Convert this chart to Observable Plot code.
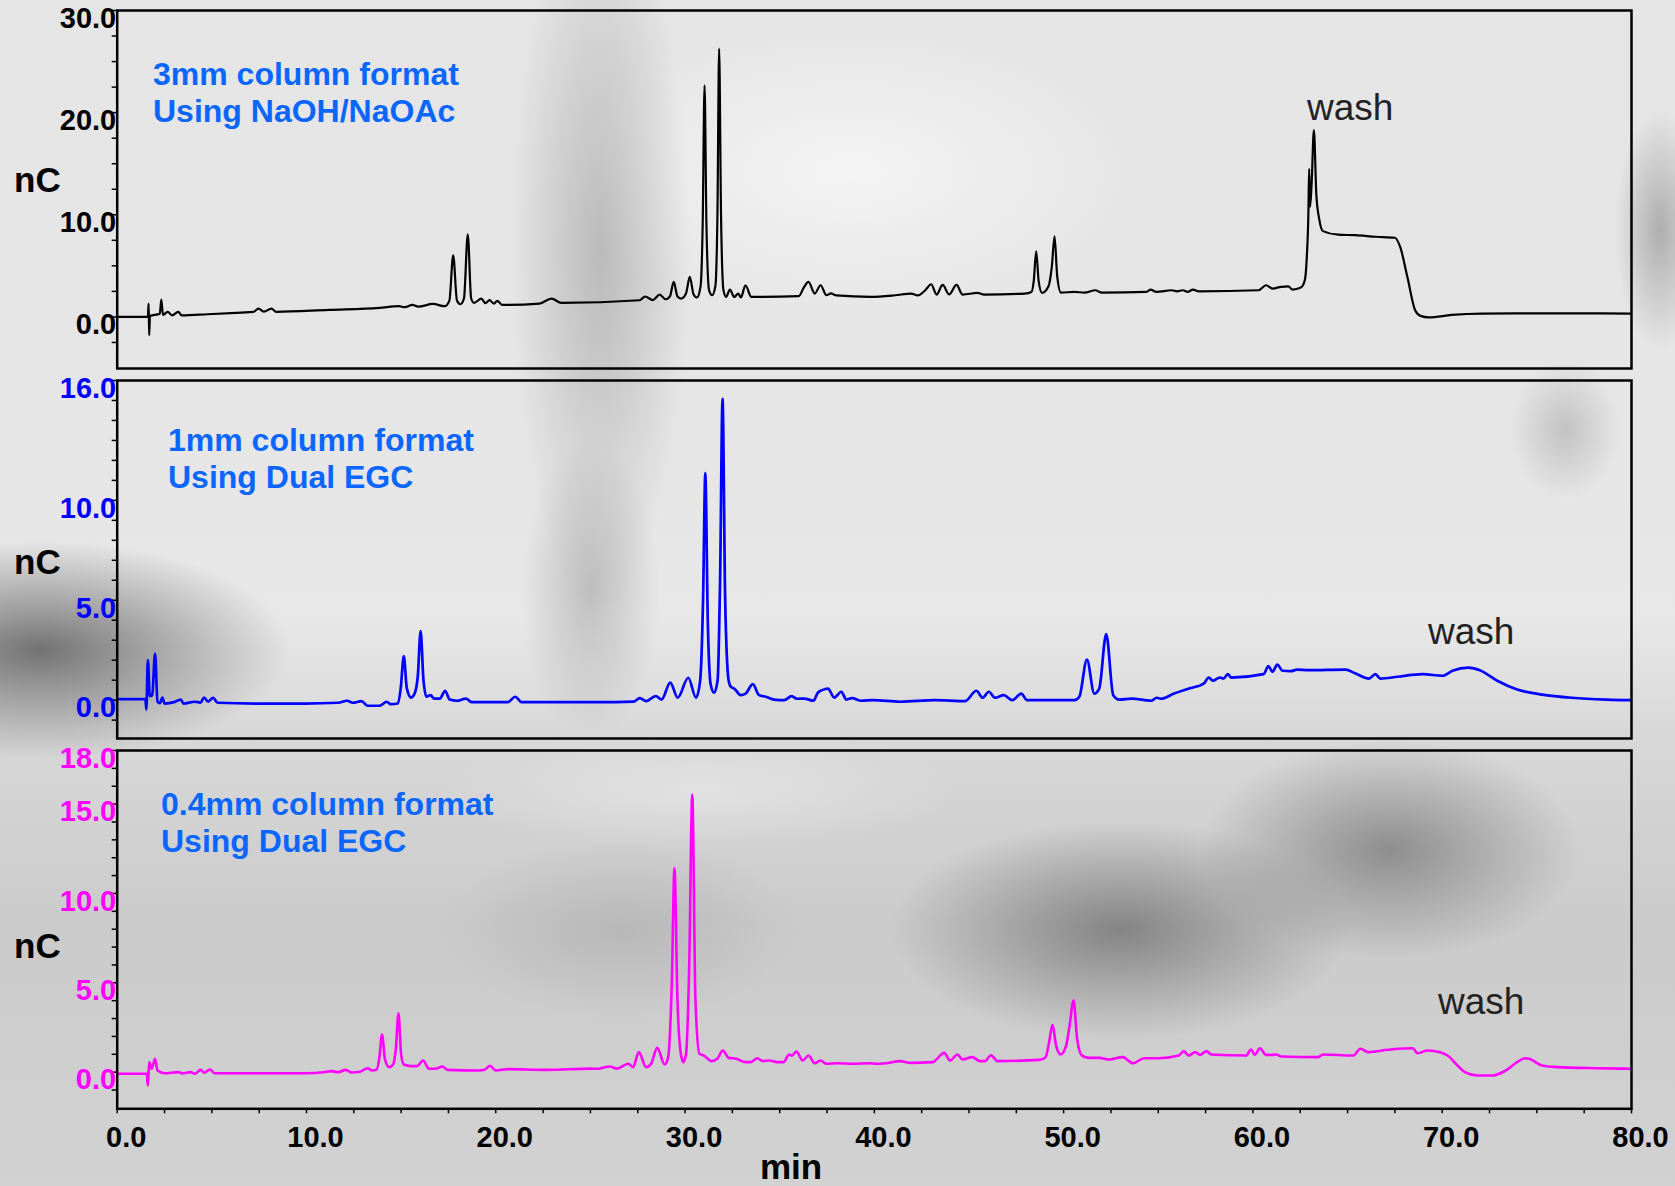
<!DOCTYPE html>
<html>
<head>
<meta charset="utf-8">
<script src="https://cdn.jsdelivr.net/npm/d3@7"></script>
<script src="https://cdn.jsdelivr.net/npm/@observablehq/plot@0.6"></script>
<style>
html, body { margin: 0; padding: 0; background: #dcdcdc; }
#chart {
  position: relative; width: 1675px; height: 1186px; overflow: hidden;
  font-family: "Liberation Sans", Arial, sans-serif;
  background:
    radial-gradient(ellipse 250px 110px at 40px 650px, rgba(95,95,95,0.85), rgba(95,95,95,0)),
    radial-gradient(ellipse 90px 360px at 600px 250px, rgba(150,150,150,0.55), rgba(150,150,150,0)),
    radial-gradient(ellipse 70px 150px at 590px 590px, rgba(150,150,150,0.5), rgba(150,150,150,0)),
    radial-gradient(ellipse 230px 110px at 1120px 930px, rgba(120,120,120,0.85), rgba(120,120,120,0)),
    radial-gradient(ellipse 190px 110px at 1390px 850px, rgba(125,125,125,0.8), rgba(125,125,125,0)),
    radial-gradient(ellipse 180px 90px at 620px 930px, rgba(160,160,160,0.45), rgba(160,160,160,0)),
    radial-gradient(ellipse 45px 120px at 1660px 230px, rgba(150,150,150,0.7), rgba(150,150,150,0)),
    radial-gradient(ellipse 55px 70px at 1565px 430px, rgba(165,165,165,0.55), rgba(165,165,165,0)),
    radial-gradient(ellipse 300px 150px at 850px 170px, rgba(250,250,250,0.7), rgba(250,250,250,0)),
    radial-gradient(ellipse 260px 60px at 700px 790px, rgba(235,235,235,0.6), rgba(235,235,235,0)),
    linear-gradient(180deg, #e5e5e5 0%, #e6e6e6 40%, #e8e8e8 52%, #d8d8d8 62%, #cbcbcb 78%, #d2d2d2 100%);
}
.panel { position: absolute; left: 0; }
.lbl { position: absolute; white-space: nowrap; line-height: 1; }
.nc { font-size: 35px; font-weight: bold; color: #000; left: 14px; }
.note { font-size: 32px; font-weight: bold; color: #0a66ff; line-height: 37px; }
.wash { font-size: 37px; color: #222; }
</style>
</head>
<body>
<div id="chart"></div>
<script>
// ---------- data (time in min, response in nC) ----------
const trace3mm = [
  [0.0,0.0],[1.62,0.02],[1.66,1.3],[1.69,-1.79],[1.73,0.1],[2.25,0.3],[2.33,1.7],[2.42,0.2],
  [2.67,0.49],[2.9,0.15],[3.23,0.49],[3.41,0.15],[4.77,0.26],[6.56,0.43],[7.2,0.5],[7.46,0.82],
  [7.75,0.52],[8.15,0.82],[8.4,0.5],[11.17,0.69],[13.86,0.88],[14.88,1.05],[15.2,0.95],[15.6,1.18],
  [15.9,1.0],[16.68,1.27],[17.3,1.05],[17.55,1.6],[17.75,6.04],[17.95,1.6],[18.13,1.24],[18.32,1.8],
  [18.52,8.09],[18.7,1.8],[18.85,1.37],[19.24,1.8],[19.45,1.35],[19.67,1.64],[19.9,1.3],[20.08,1.57],
  [20.34,1.18],[22.31,1.31],[22.95,1.8],[23.46,1.37],[27.6,1.63],[27.89,2.0],[28.3,1.65],[28.66,2.19],
  [28.97,1.73],[29.2,2.0],[29.4,3.43],[29.6,2.0],[29.79,1.8],[30.05,2.3],[30.25,3.92],[30.45,2.2],
  [30.63,1.9],[30.82,3.0],[30.93,9.0],[31.03,22.67],[31.13,9.0],[31.27,2.6],[31.43,2.12],[31.6,3.0],
  [31.71,10.0],[31.8,26.26],[31.9,10.0],[32.03,2.6],[32.17,1.96],[32.37,2.68],[32.6,1.95],[32.81,2.29],
  [32.95,1.9],[33.19,3.1],[33.5,1.96],[36.01,2.03],[36.27,2.87],[36.52,3.43],[36.85,2.29],[37.16,3.1],
  [37.47,2.12],[37.7,2.3],[38.0,2.1],[39.8,1.96],[41.1,2.12],[41.95,2.29],[42.3,2.1],[42.69,2.61],
  [43.0,3.2],[43.29,2.19],[43.61,3.13],[43.95,2.2],[44.34,3.13],[44.66,2.19],[45.45,2.35],[45.8,2.19],
  [47.94,2.29],[48.3,2.45],[48.42,3.5],[48.55,6.43],[48.68,3.5],[48.86,2.35],[49.2,3.0],[49.38,5.0],
  [49.52,7.9],[49.66,4.0],[49.86,2.38],[50.57,2.45],[51.1,2.38],[51.67,2.61],[52.02,2.38],[54.38,2.45],
  [54.59,2.68],[54.9,2.45],[55.7,2.61],[56.0,2.51],[56.3,2.61],[56.55,2.45],[56.83,2.68],[57.14,2.51],
  [60.3,2.61],[60.69,3.1],[61.03,2.78],[61.48,2.94],[61.87,3.0],[62.08,2.68],[62.53,2.87],[62.74,3.59],
  [62.85,6.0],[62.93,10.1],[62.97,14.5],[63.02,10.8],[63.1,13.0],[63.22,18.3],[63.35,12.0],[63.5,9.6],
  [63.7,8.4],[64.5,8.05],[65.4,8.0],[66.5,7.85],[67.5,7.75],[67.78,6.85],[68.15,4.0],[68.57,0.65],
  [68.85,0.1],[69.3,-0.05],[70.5,0.2],[72.1,0.33],[76.0,0.35],[80.0,0.33]
];
const trace1mm = [
  [0.0,0.05],[1.49,0.05],[1.54,-0.47],[1.62,2.0],[1.72,0.2],[1.85,0.25],[2.0,2.33],[2.13,-0.08],
  [2.25,-0.15],[2.39,0.13],[2.5,-0.17],[3.0,-0.1],[3.36,0.03],[3.5,-0.17],[4.1,-0.08],[4.4,-0.12],
  [4.59,0.13],[4.8,-0.08],[5.07,0.12],[5.3,-0.13],[7.33,-0.17],[9.89,-0.17],[11.68,-0.13],[12.14,-0.03],
  [12.45,-0.13],[12.91,-0.05],[13.22,-0.28],[13.86,-0.28],[14.24,-0.08],[14.45,-0.2],[14.83,-0.17],
  [14.98,0.6],[15.14,2.2],[15.3,0.6],[15.52,0.13],[15.7,0.3],[15.88,1.2],[16.03,3.45],[16.18,1.0],
  [16.34,0.17],[16.55,0.25],[16.75,0.08],[17.05,0.08],[17.32,0.47],[17.57,0.03],[17.95,-0.03],
  [18.42,0.08],[18.72,-0.1],[20.64,-0.1],[21.03,0.17],[21.36,-0.1],[25.25,-0.1],[27.3,-0.07],
  [27.61,0.1],[27.94,-0.05],[28.45,0.2],[28.76,0.03],[29.22,0.88],[29.61,0.12],[30.17,1.12],[30.58,0.12],
  [30.8,1.0],[30.95,5.0],[31.07,11.37],[31.2,4.0],[31.35,0.8],[31.54,0.37],[31.72,1.0],[31.85,6.0],
  [31.98,15.08],[32.12,5.0],[32.3,1.0],[32.42,0.67],[32.6,0.58],[32.94,0.25],[33.2,0.33],[33.58,0.8],
  [33.91,0.25],[34.27,0.17],[34.7,0.03],[35.24,0.0],[35.63,0.2],[35.9,0.07],[36.3,0.08],[36.78,-0.03],
  [37.0,0.35],[37.24,0.5],[37.55,0.58],[37.88,0.13],[38.26,0.42],[38.52,0.03],[38.83,0.1],[39.3,-0.03],
  [39.93,0.0],[41.37,-0.08],[43.21,0.0],[44.79,-0.05],[45.39,0.47],[45.72,0.12],[46.05,0.42],[46.37,0.12],
  [46.84,0.25],[47.29,0.0],[47.76,0.33],[48.07,0.0],[50.57,0.0],[50.83,0.17],[51.23,2.03],[51.62,0.33],
  [51.88,0.58],[52.25,3.3],[52.62,0.25],[52.94,0.03],[53.59,0.08],[54.64,-0.03],[54.91,0.12],[55.17,0.07],
  [55.83,0.33],[56.62,0.58],[57.4,0.83],[57.67,1.13],[57.88,0.97],[58.25,1.13],[58.45,1.08],[58.67,1.3],
  [58.85,1.13],[60.56,1.3],[60.82,1.7],[61.03,1.42],[61.29,1.78],[61.56,1.47],[62.0,1.45],[62.34,1.53],
  [62.92,1.5],[64.89,1.53],[65.42,1.33],[66.13,1.08],[66.47,1.3],[66.73,1.08],[67.65,1.17],[68.97,1.3],
  [70.02,1.22],[70.54,1.47],[71.39,1.63],[71.99,1.5],[72.91,0.97],[73.96,0.53],[75.27,0.28],[76.85,0.12],
  [78.69,0.03],[80.0,0.0]
];
const trace04mm = [
  [0.0,-0.09],[1.57,-0.09],[1.62,-0.75],[1.69,0.56],[1.82,0.19],[2.0,0.75],[2.13,0.09],[2.51,-0.06],
  [3.23,0.0],[3.45,-0.07],[3.87,0.0],[4.1,-0.09],[4.41,0.13],[4.6,-0.03],[4.9,0.15],[5.15,-0.06],
  [7.33,-0.06],[10.0,-0.06],[10.91,0.0],[11.3,0.06],[11.68,0.0],[12.07,0.13],[12.38,-0.02],[12.83,0.02],
  [13.22,0.22],[13.47,0.09],[13.7,0.13],[13.85,0.8],[13.99,2.11],[14.15,0.7],[14.37,0.28],[14.58,0.43],
  [14.72,1.3],[14.86,3.3],[15.0,1.0],[15.14,0.43],[15.52,0.34],[15.85,0.34],[16.16,0.65],[16.47,0.19],
  [16.8,0.19],[17.19,0.32],[17.44,0.13],[19.11,0.09],[19.4,0.13],[19.7,0.36],[20.0,0.09],[20.65,0.17],
  [22.69,0.13],[25.0,0.2],[25.4,0.19],[26.02,0.32],[26.4,0.2],[27.0,0.47],[27.25,0.28],[27.56,1.12],
  [27.94,0.28],[28.2,0.45],[28.53,1.36],[28.92,0.43],[29.1,0.8],[29.3,5.0],[29.44,11.41],[29.6,4.0],
  [29.78,1.0],[29.91,0.56],[30.05,1.0],[30.22,6.0],[30.38,15.54],[30.55,4.0],[30.76,1.03],[31.0,0.93],
  [31.4,0.62],[31.7,0.75],[32.0,1.21],[32.3,0.8],[32.7,0.75],[33.19,0.56],[33.45,0.56],[33.83,0.78],
  [34.1,0.62],[34.47,0.65],[34.85,0.56],[35.2,0.56],[35.5,0.99],[35.65,0.93],[35.88,1.16],[36.22,0.65],
  [36.52,0.93],[36.85,0.5],[37.16,0.65],[37.47,0.47],[38.06,0.5],[38.83,0.47],[39.8,0.5],[40.06,0.47],
  [40.6,0.5],[41.37,0.62],[41.9,0.52],[43.08,0.56],[43.69,1.08],[44.0,0.65],[44.39,0.99],[44.66,0.71],
  [45.18,0.84],[45.58,0.62],[45.85,0.62],[46.16,0.95],[46.5,0.62],[48.73,0.69],[49.05,0.84],[49.22,1.6],
  [49.41,2.65],[49.6,1.5],[49.84,0.99],[50.12,1.44],[50.3,2.5],[50.52,4.01],[50.72,1.8],[50.97,0.93],
  [51.36,0.8],[51.9,0.8],[52.41,0.71],[53.12,0.84],[53.67,0.5],[54.25,0.78],[55.0,0.78],[56.09,0.93],
  [56.35,1.18],[56.6,0.93],[56.96,1.12],[57.2,0.97],[57.54,1.18],[57.8,0.99],[59.64,0.93],[59.9,1.27],
  [60.1,0.97],[60.37,1.34],[60.69,0.97],[61.0,0.97],[61.22,0.99],[61.48,0.88],[63.45,0.84],[63.71,0.99],
  [65.29,0.93],[65.68,1.31],[66.08,1.12],[67.13,1.25],[67.65,1.31],[68.44,1.34],[68.7,1.06],[69.23,1.21],
  [69.89,1.12],[70.28,0.93],[70.81,0.37],[71.2,0.0],[71.86,-0.19],[72.65,-0.19],[73.3,0.06],[73.96,0.56],
  [74.36,0.78],[74.6,0.75],[75.27,0.37],[76.06,0.28],[78.17,0.22],[80.0,0.19]
];

const yMajor3mm = [0, 10, 20, 30];
const yMajor1mm = [0, 5, 10, 16];
const yMajor04mm = [0, 5, 10, 15, 18];
const xMajor = [0, 10, 20, 30, 40, 50, 60, 70, 80];
const yMinor3mm = [-2.5, 0, 2.5, 5, 7.5, 10, 12.5, 15, 17.5, 20, 22.5, 25, 27.5, 30];
const yMinor1mm = [-1, 0, 1, 2, 3, 4, 5, 6, 7, 8, 9, 10, 11, 12, 13, 14, 15, 16];
const yMinor04mm = [-1, 0, 1, 2, 3, 4, 5, 6, 7, 8, 9, 10, 11, 12, 13, 14, 15, 16, 17, 18];
const xMinor = [0, 2.5, 5, 7.5, 10, 12.5, 15, 17.5, 20, 22.5, 25, 27.5, 30, 32.5, 35, 37.5, 40, 42.5, 45,
  47.5, 50, 52.5, 55, 57.5, 60, 62.5, 65, 67.5, 70, 72.5, 75, 77.5, 80];

const fmt = d3.format(".1f");
const chart = document.getElementById("chart");

function panel({data, color, labelColor, yDomain, yMajor, yMinor, top, height, marginTop, marginBottom, showX, strokeWidth}) {
  const marks = [
    Plot.axisY(yMinor, {tickSize: 5, tickFormat: () => "", label: null, stroke: "#000", strokeWidth: 1.5}),
    Plot.axisY(yMajor, {tickSize: 0, tickPadding: 1, tickFormat: fmt, label: null, color: labelColor,
      fontSize: 29, fontWeight: "bold", dy: 8}),
    Plot.line(data, {x: d => d[0], y: d => d[1], stroke: color, strokeWidth, curve: "monotone-x", clip: true}),
    Plot.frame({stroke: "#000", strokeWidth: 2.5})
  ];
  if (showX) {
    marks.push(Plot.axisX(xMinor, {tickSize: 5, tickFormat: () => "", label: null, stroke: "#000", strokeWidth: 1.5}));
    marks.push(Plot.axisX(xMajor, {tickSize: 0, tickPadding: 18, tickFormat: fmt, label: null, color: "#000",
      fontSize: 29, fontWeight: "bold", dx: 9}));
  }
  const svg = Plot.plot({
    width: 1675, height,
    marginLeft: 116.7, marginRight: 44, marginTop, marginBottom,
    x: {domain: [0, 80], axis: showX ? undefined : null},
    y: {domain: yDomain},
    style: {background: "transparent", overflow: "visible", fontFamily: "'Liberation Sans', Arial, sans-serif"},
    marks
  });
  svg.classList.add("panel");
  svg.style.top = top + "px";
  svg.style.position = "absolute";
  chart.appendChild(svg);
}

panel({data: trace3mm, color: "#000", labelColor: "#000", yDomain: [-5.05, 30], yMajor: yMajor3mm, yMinor: yMinor3mm,
  top: 0, height: 372, marginTop: 10, marginBottom: 4, showX: false, strokeWidth: 2.2});
panel({data: trace1mm, color: "#0000ff", labelColor: "#0000ff", yDomain: [-1.92, 16], yMajor: yMajor1mm, yMinor: yMinor1mm,
  top: 372, height: 370, marginTop: 8, marginBottom: 4, showX: false, strokeWidth: 2.7});
panel({data: trace04mm, color: "#ff00ff", labelColor: "#ff00ff", yDomain: [-2.05, 18], yMajor: yMajor04mm, yMinor: yMinor04mm,
  top: 742, height: 444, marginTop: 8, marginBottom: 77.7, showX: true, strokeWidth: 2.6});

function label(cls, text, left, top, extra) {
  const d = document.createElement("div");
  d.className = "lbl " + cls;
  d.innerHTML = text;
  d.style.left = left + "px";
  d.style.top = top + "px";
  if (extra) Object.assign(d.style, extra);
  chart.appendChild(d);
}
label("nc", "nC", 14, 162);
label("nc", "nC", 14, 544);
label("nc", "nC", 14, 928);
label("note", "3mm column format<br>Using NaOH/NaOAc", 153, 56);
label("note", "1mm column format<br>Using Dual EGC", 168, 422);
label("note", "0.4mm column format<br>Using Dual EGC", 161, 786);
label("wash", "wash", 1307, 89);
label("wash", "wash", 1428, 613);
label("wash", "wash", 1438, 983);
label("", "min", 691, 1152, {width: "200px", textAlign: "center", fontSize: "35px", fontWeight: "bold",
  color: "#000", lineHeight: "30px", height: "30px"});
</script>
</body>
</html>
